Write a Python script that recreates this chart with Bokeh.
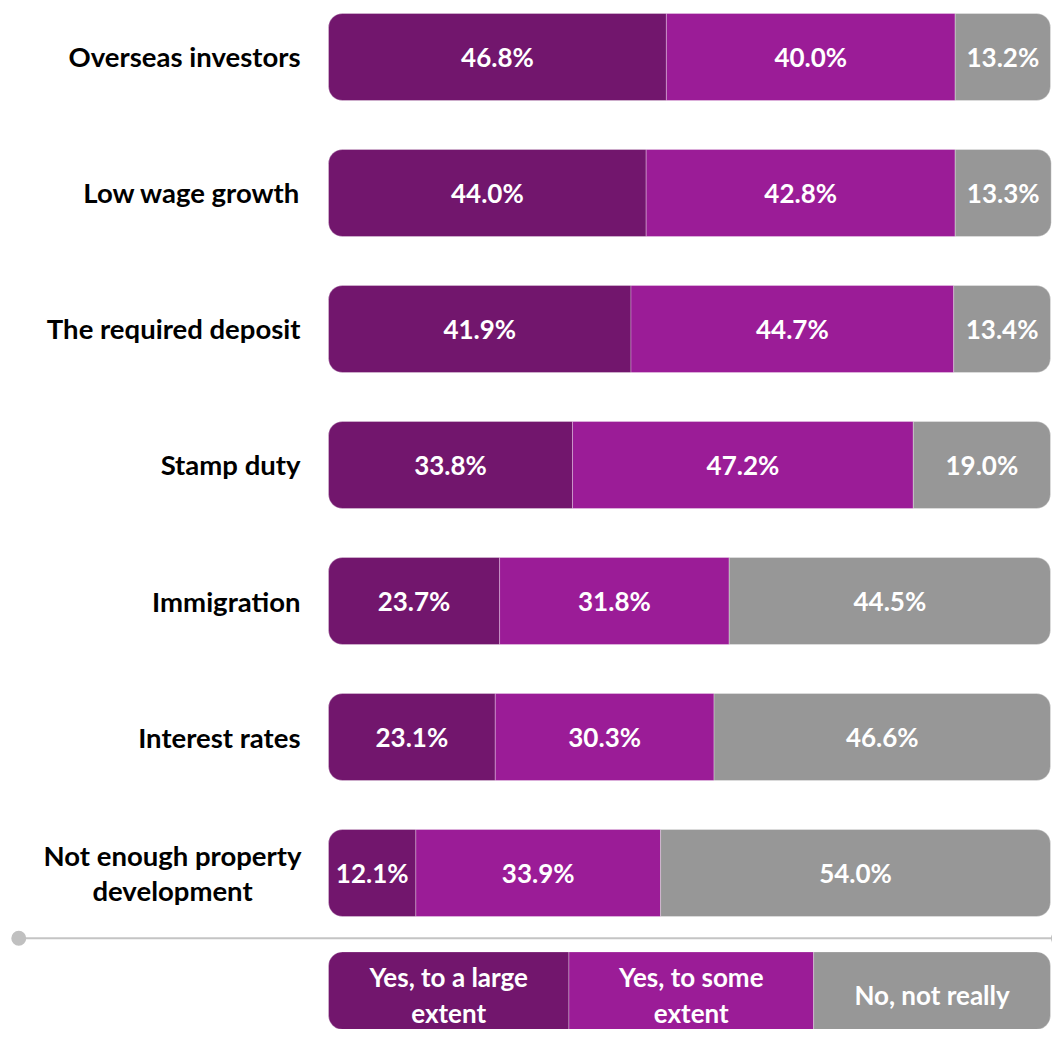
from bokeh.plotting import figure
from bokeh.models import Range1d, ColumnDataSource
from bokeh.core.properties import value
from bokeh.embed import file_html
from bokeh.resources import INLINE

categories = ["Overseas investors", "Low wage growth", "The required deposit",
              "Stamp duty", "Immigration", "Interest rates",
              "Not enough property\ndevelopment"]
large_extent = [46.8, 44.0, 41.9, 33.8, 23.7, 23.1, 12.1]
some_extent = [40.0, 42.8, 44.7, 47.2, 31.8, 30.3, 33.9]
not_really = [13.2, 13.3, 13.4, 19.0, 44.5, 46.6, 54.0]
series_names = ["Yes, to a large\nextent", "Yes, to some\nextent", "No, not really"]
legend_widths = [33.3, 33.9, 32.8]

colors = ["#72166d", "#9b1c97", "#979797"]
FONT = value("Lato")
R = 14
BAR_H = 0.64

p = figure(width=1052, height=1029, x_range=Range1d(-45.43, 100.28),
           y_range=Range1d(7.1507, -0.4154), output_backend="svg",
           toolbar_location=None, min_border=0,
           x_axis_location=None, y_axis_location=None)
p.grid.visible = False
p.outline_line_color = None
p.background_fill_color = "white"

rows = list(range(len(categories)))
series = [large_extent, some_extent, not_really]
radii = [(R, 0, 0, R), 0, (0, R, R, 0)]

lefts = [0.0] * len(rows)
for k, vals in enumerate(series):
    rights = [l + v for l, v in zip(lefts, vals)]
    src = ColumnDataSource(dict(y=rows, left=lefts, right=rights,
                                cx=[(l + r) / 2 for l, r in zip(lefts, rights)],
                                lab=[f"{v:.1f}%" for v in vals]))
    p.hbar(y="y", left="left", right="right", height=BAR_H, source=src,
           fill_color=colors[k], line_color="white", line_alpha=0.5, line_width=0.6,
           border_radius=radii[k])
    p.text(x="cx", y="y", text="lab", source=src, text_align="center",
           text_baseline="middle", text_font=FONT, text_font_style="bold",
           text_font_size="26px", text_color="white")
    lefts = rights

# category labels
single = [i for i, c in enumerate(categories) if "\n" not in c]
multi = [i for i, c in enumerate(categories) if "\n" in c]
p.text(x=[-3.88] * len(single), y=[rows[i] for i in single],
       text=[categories[i] for i in single], text_align="right",
       text_baseline="middle", text_font=FONT, text_font_style="bold",
       text_font_size="27.5px", text_color="black")
p.text(x=[-21.6] * len(multi), y=[rows[i] for i in multi],
       text=[categories[i] for i in multi], text_align="center",
       text_baseline="middle", text_font=FONT, text_font_style="bold",
       text_font_size="27.5px", text_color="black", text_line_height=1.06)

# separator line
sep_y = 6.48
p.line(x=[-42.9, 101.1], y=[sep_y, sep_y], line_color="#c4c4c4", line_width=2)
p.scatter(x=[-42.9, 101.1], y=[sep_y, sep_y], size=15, fill_color="#c0c0c0",
          line_color=None)

# legend bar
leg_y = 6.9
l0 = 0.0
for k, w in enumerate(legend_widths):
    p.hbar(y=[leg_y], left=[l0], right=[l0 + w], height=BAR_H,
           fill_color=colors[k], line_color="white", line_alpha=0.5, line_width=0.6,
           border_radius=radii[k])
    p.text(x=[l0 + w / 2], y=[leg_y], text=[series_names[k]], text_align="center",
           text_baseline="middle", text_font=FONT, text_font_style="bold",
           text_font_size="26px", text_color="white", text_line_height=1.12)
    l0 += w

open("out.html", "w").write(file_html(p, INLINE))
